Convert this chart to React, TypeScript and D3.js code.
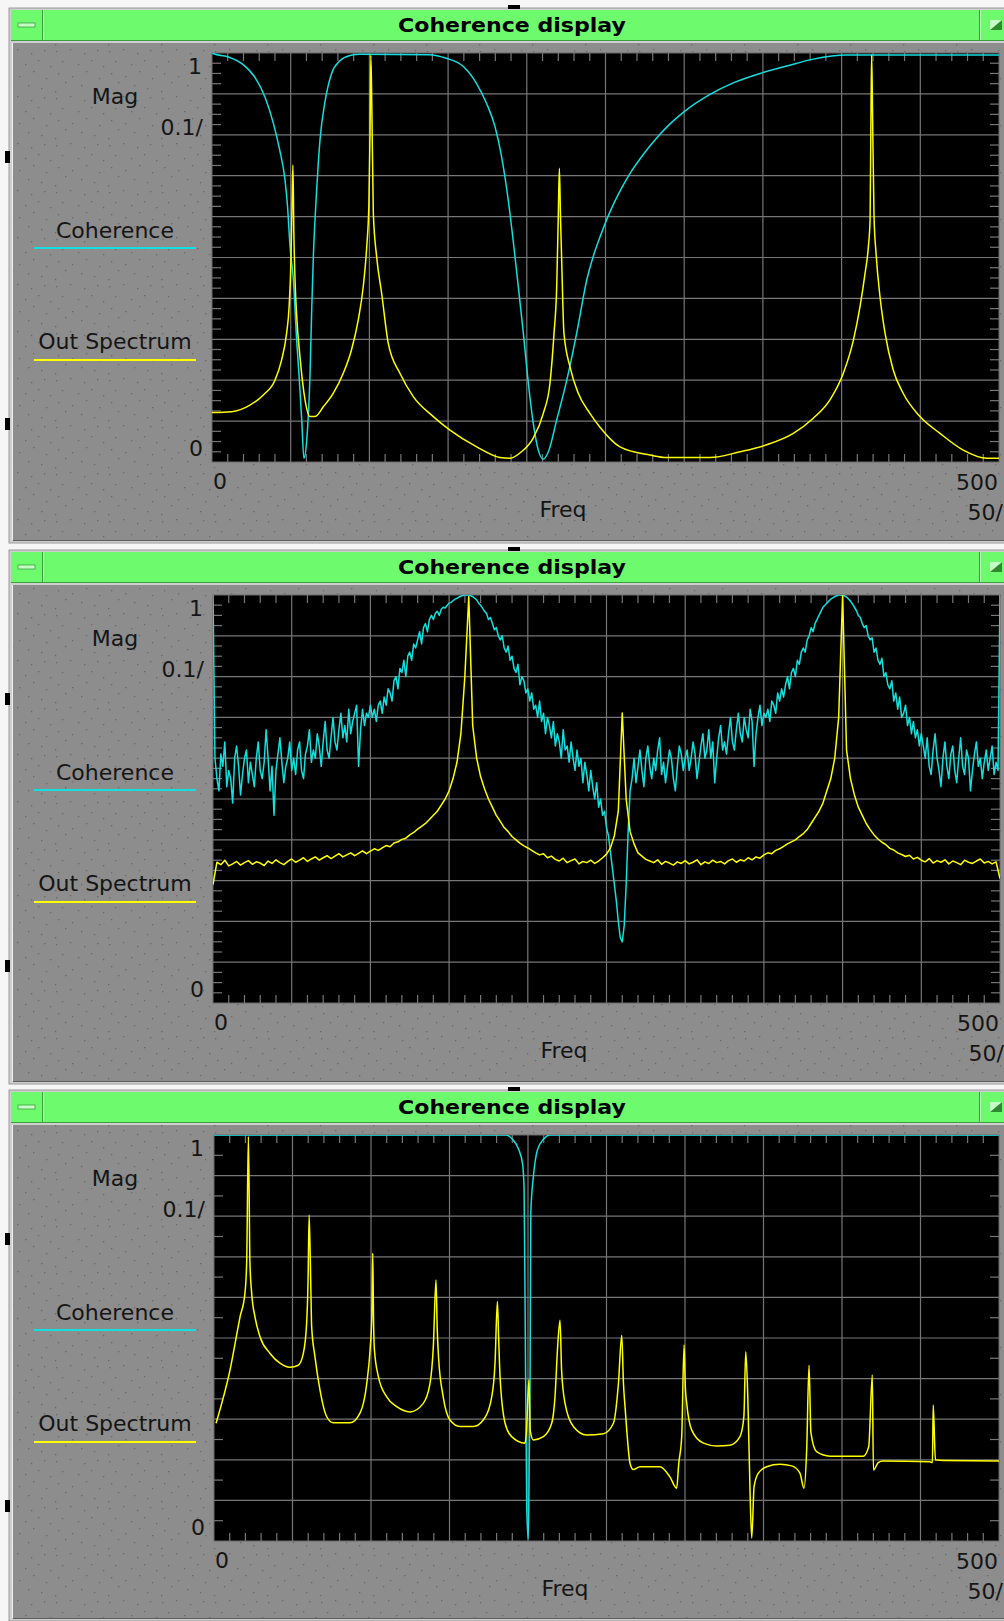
import React from "react";
import * as d3 from "d3";

const W = 1004;
const H = 1621;
const FONT = "'DejaVu Sans', sans-serif";

type Pt = [number, number];

// axis text
const titleText = "Coherence display";
const yAxisName = "Mag";
const yTop = "1";
const yDiv = "0.1/";
const yBottom = "0";
const xAxisName = "Freq";
const xLeft = "0";
const xRight = "500";
const xDiv = "50/";
const seriesNames = ["Coherence", "Out Spectrum"];
const seriesColors = ["#14dede", "#ffff00"];

const freqDomain: Pt = [0, 500];
const magDomain: Pt = [0, 1];

// panel 1 : [freq, mag]
const p1Coherence: Pt[] = [
  [0, 1.0], [1, 0.998], [10, 0.991], [20, 0.971], [27, 0.942], [34, 0.889], [39, 0.828],
  [43, 0.763], [46.4, 0.689], [48, 0.624], [49.6, 0.526], [51.7, 0.445], [53.8, 0.298],
  [55.5, 0.2], [57, 0.103], [58.4, 0.009], [60.2, 0.054], [62.3, 0.217], [63.4, 0.38],
  [64.4, 0.502], [66.5, 0.665], [68.6, 0.787], [71.8, 0.881], [76, 0.95], [81.3, 0.981],
  [87.7, 0.994], [94, 0.997], [138, 0.996], [149, 0.987], [159.7, 0.967], [168, 0.926],
  [174.4, 0.877], [179.8, 0.82], [184, 0.746], [188.2, 0.641], [191.3, 0.543], [194.6, 0.429],
  [197.8, 0.315], [201, 0.192], [204.1, 0.095], [207.3, 0.029], [210.5, 0.007], [213.7, 0.025],
  [219, 0.103], [225.4, 0.2], [231.7, 0.315], [238.1, 0.445], [242, 0.5], [246.5, 0.55],
  [251, 0.595], [256, 0.638], [261, 0.675], [266, 0.708], [274, 0.752], [282.5, 0.792],
  [290, 0.823], [299.4, 0.855], [316.4, 0.899], [331.2, 0.927], [348.2, 0.95], [365.1, 0.968],
  [382, 0.985], [403, 0.995], [500, 0.995],
];

const p1Spectrum: Pt[] = [
  [0, 0.121], [12.4, 0.123], [24.1, 0.139], [32.6, 0.164], [40, 0.2], [44.2, 0.249],
  [47.4, 0.315], [49, 0.38], [50.2, 0.5], [50.8, 0.62], [51.4, 0.726], [52, 0.56],
  [52.8, 0.44], [53.7, 0.364], [55.9, 0.257], [59.1, 0.152], [62.3, 0.111], [65.4, 0.111],
  [70.7, 0.135], [77, 0.168], [83.4, 0.217], [88.6, 0.274], [92.9, 0.347], [96.1, 0.429],
  [98.3, 0.526], [99.7, 0.633], [100.4, 0.8], [100.9, 0.995], [101.5, 0.88], [102.5, 0.608],
  [104.6, 0.502], [107.8, 0.412], [112, 0.29], [119.4, 0.217], [127.9, 0.16], [140.6, 0.111],
  [151.2, 0.078], [168.2, 0.037], [182.9, 0.011], [189.3, 0.009], [196.6, 0.025], [204, 0.058],
  [210.5, 0.119], [214.7, 0.192], [217.3, 0.315], [219, 0.429], [220, 0.6], [220.7, 0.718],
  [221.4, 0.6], [222.1, 0.502], [223.6, 0.315], [227.4, 0.233], [232.7, 0.168], [240.1, 0.119],
  [246.5, 0.085], [259.2, 0.037], [278.3, 0.017], [288.9, 0.011], [316.4, 0.011], [335.5, 0.025],
  [352.4, 0.042], [369.3, 0.07], [382, 0.107], [392.6, 0.152], [401.1, 0.217], [407.5, 0.298],
  [411.7, 0.38], [414.9, 0.461], [417, 0.526], [418.1, 0.592], [418.7, 0.87], [419.1, 0.995],
  [419.6, 0.87], [420.6, 0.6], [421.9, 0.51], [424.4, 0.404], [427.6, 0.315], [432.8, 0.225],
  [439.1, 0.168], [449.8, 0.111], [462.5, 0.07], [477.3, 0.029], [492.2, 0.009], [500, 0.009],
];

// panel 2 : coherence, one value every 1.25 Hz, 0..500
const p2CohStep = 1.25;
const p2Coherence: number[] = [
  1.0,
  0.6, 0.55, 0.52, 0.61, 0.58, 0.64, 0.53, 0.57, 0.55, 0.49,
  0.6, 0.63, 0.58, 0.51, 0.56, 0.6, 0.62, 0.54, 0.59, 0.56,
  0.53, 0.6, 0.64, 0.57, 0.55, 0.59, 0.67, 0.6, 0.52, 0.58,
  0.46, 0.57, 0.61, 0.65, 0.59, 0.54, 0.58, 0.6, 0.64, 0.57,
  0.6, 0.56, 0.62, 0.64, 0.57, 0.55, 0.61, 0.63, 0.67, 0.59,
  0.62, 0.6, 0.66, 0.63, 0.58, 0.64, 0.69, 0.62, 0.6, 0.65,
  0.7, 0.64, 0.62, 0.67, 0.71, 0.65, 0.68, 0.64, 0.72, 0.66,
  0.69, 0.71, 0.73, 0.58, 0.67, 0.72, 0.68, 0.71, 0.7, 0.73,
  0.7, 0.72, 0.69, 0.73, 0.74, 0.71, 0.75, 0.73, 0.77, 0.76,
  0.74, 0.79, 0.8, 0.77, 0.82, 0.81, 0.84, 0.8, 0.85, 0.86,
  0.84, 0.88, 0.87, 0.89, 0.91, 0.88, 0.92, 0.93, 0.91, 0.94,
  0.95, 0.94, 0.955, 0.96, 0.95, 0.965, 0.97, 0.968, 0.975, 0.98,
  0.982, 0.986, 0.99, 0.992, 0.995, 0.997, 0.999, 1.0, 1.0, 1.0,
  0.998, 0.996, 0.992, 0.988, 0.98, 0.975, 0.968, 0.96, 0.955, 0.94,
  0.945, 0.93, 0.915, 0.92, 0.9, 0.89, 0.9, 0.87, 0.86, 0.875,
  0.84, 0.85, 0.82, 0.81, 0.83, 0.78, 0.8, 0.79, 0.76, 0.77,
  0.74, 0.76, 0.72, 0.73, 0.7, 0.74, 0.69, 0.71, 0.66, 0.7,
  0.68, 0.65, 0.69, 0.63, 0.66, 0.64, 0.6, 0.67, 0.62, 0.63,
  0.59, 0.64, 0.6, 0.57, 0.62, 0.58, 0.6, 0.54, 0.59, 0.56,
  0.52, 0.57, 0.53, 0.5, 0.54, 0.48, 0.5, 0.46, 0.47, 0.43,
  0.41, 0.37, 0.33, 0.29, 0.25, 0.2, 0.16, 0.15, 0.19, 0.29,
  0.42, 0.52, 0.55, 0.6, 0.54, 0.58, 0.62, 0.57, 0.53, 0.6,
  0.63, 0.58, 0.55, 0.6, 0.57, 0.62, 0.65, 0.56, 0.59, 0.54,
  0.58, 0.62, 0.6, 0.55, 0.52, 0.58, 0.63, 0.61, 0.57, 0.6,
  0.62, 0.57, 0.6, 0.64, 0.61, 0.55, 0.59, 0.63, 0.66, 0.6,
  0.62, 0.67, 0.6, 0.64, 0.54, 0.6, 0.65, 0.68, 0.62, 0.64,
  0.61, 0.66, 0.7, 0.64, 0.62, 0.67, 0.71, 0.66, 0.64, 0.7,
  0.67, 0.65, 0.72, 0.69, 0.58, 0.66, 0.7, 0.73, 0.68, 0.71,
  0.7, 0.72, 0.69, 0.74, 0.73, 0.71, 0.76, 0.74, 0.77, 0.75,
  0.78, 0.8, 0.77, 0.81, 0.82, 0.8, 0.84, 0.83, 0.86, 0.87,
  0.86, 0.89, 0.9, 0.92, 0.91, 0.93, 0.94, 0.95, 0.96, 0.97,
  0.975, 0.98, 0.985, 0.99, 0.993, 0.996, 0.998, 1.0, 1.0, 1.0,
  0.998, 0.995, 0.99, 0.985, 0.978, 0.97, 0.962, 0.95, 0.945, 0.93,
  0.92, 0.925, 0.9, 0.89, 0.895, 0.86, 0.87, 0.84, 0.83, 0.845,
  0.8, 0.81, 0.78, 0.77, 0.79, 0.74, 0.76, 0.72, 0.75, 0.7,
  0.71, 0.73, 0.68, 0.7, 0.66, 0.69, 0.65, 0.67, 0.63, 0.66,
  0.63, 0.6, 0.65, 0.58, 0.56, 0.62, 0.66, 0.6, 0.57, 0.53,
  0.6, 0.64, 0.58, 0.55, 0.61, 0.63, 0.57, 0.54, 0.6, 0.65,
  0.58, 0.56, 0.62, 0.6, 0.52, 0.57, 0.61, 0.64, 0.58, 0.6,
  0.55, 0.59, 0.62, 0.57, 0.6, 0.63, 0.56, 0.59, 0.57, 1.0,
];

// panel 2 : out spectrum, one value every 2.5 Hz, 0..500
const p2SpecStep = 2.5;
const p2Spectrum: number[] = [
  0.29, 0.345, 0.339, 0.35, 0.336, 0.341, 0.347, 0.338, 0.344, 0.349,
  0.34, 0.346, 0.343, 0.337, 0.348, 0.342, 0.351, 0.344, 0.339, 0.347,
  0.353, 0.345, 0.35, 0.356, 0.347, 0.353, 0.358, 0.35, 0.356, 0.361,
  0.354, 0.36, 0.366, 0.358, 0.363, 0.368, 0.361, 0.367, 0.373, 0.366,
  0.372, 0.378, 0.374, 0.38, 0.386, 0.383, 0.392, 0.395, 0.401, 0.404,
  0.412, 0.418, 0.426, 0.433, 0.44, 0.45, 0.46, 0.47, 0.485, 0.5,
  0.52, 0.55, 0.59, 0.66, 0.8, 0.996, 0.68, 0.6, 0.555, 0.525,
  0.5, 0.48, 0.46, 0.445, 0.43, 0.42, 0.408, 0.4, 0.392, 0.385,
  0.38, 0.374, 0.368, 0.363, 0.366, 0.356, 0.36, 0.352, 0.348, 0.355,
  0.344, 0.349, 0.353, 0.341, 0.347, 0.344, 0.35, 0.342, 0.348, 0.356,
  0.365, 0.38, 0.41, 0.47, 0.711, 0.5, 0.42, 0.39, 0.368, 0.36,
  0.352, 0.348, 0.344, 0.351, 0.34, 0.347, 0.343, 0.338, 0.346, 0.342,
  0.349, 0.341, 0.345, 0.351, 0.339, 0.346, 0.342, 0.35, 0.344, 0.347,
  0.341, 0.349, 0.353, 0.345, 0.351, 0.348, 0.356, 0.351, 0.358, 0.355,
  0.363, 0.368, 0.366, 0.374, 0.378, 0.384, 0.39, 0.395, 0.4, 0.408,
  0.415, 0.425, 0.44, 0.455, 0.47, 0.49, 0.52, 0.55, 0.6, 0.7,
  1.0, 0.62, 0.55, 0.51, 0.48, 0.46, 0.44, 0.425, 0.412, 0.402,
  0.394, 0.388, 0.379, 0.375, 0.368, 0.364, 0.359, 0.362, 0.353, 0.357,
  0.35, 0.346, 0.354, 0.343, 0.349, 0.345, 0.351, 0.341, 0.348, 0.344,
  0.339, 0.35, 0.345, 0.342, 0.348, 0.353, 0.343, 0.347, 0.341, 0.346,
  0.305,
];

// panel 3 : [freq, mag]
const p3Coherence: Pt[] = [
  [0, 1], [186, 1], [190, 0.99], [194, 0.965], [196.5, 0.93], [197.5, 0.87], [198.2, 0.55],
  [199.2, 0.08], [200.2, 0.005], [200.8, 0.2], [201.3, 0.38], [201.8, 0.81], [203.5, 0.9],
  [206, 0.963], [210, 0.99], [214, 1], [500, 1],
];

const p3Spectrum: Pt[] = [
  [1.3, 0.29], [10.2, 0.421], [16.6, 0.552], [19.7, 0.61], [20.8, 0.684], [21.9, 0.996],
  [22.9, 0.684], [24, 0.61], [26.1, 0.552], [29.3, 0.503], [35.7, 0.462], [42, 0.438],
  [48.4, 0.428], [53.7, 0.433], [56.9, 0.462], [59, 0.536], [59.9, 0.64], [60.6, 0.803],
  [61.6, 0.64], [62.2, 0.528], [64.3, 0.454], [67.5, 0.372], [71.8, 0.306], [76, 0.291],
  [86.6, 0.291], [93, 0.315], [97.3, 0.388], [99.4, 0.47], [100.5, 0.55], [101.1, 0.709],
  [101.6, 0.55], [102.2, 0.47], [104.7, 0.405], [110, 0.355], [116.4, 0.331], [124.9, 0.318],
  [133.3, 0.339], [137.6, 0.388], [139.7, 0.479], [141.4, 0.643], [142.2, 0.52], [143, 0.454],
  [146, 0.355], [150.3, 0.298], [156.7, 0.282], [165.2, 0.282], [171.5, 0.298], [176.9, 0.355],
  [179, 0.438], [180.5, 0.59], [181.3, 0.5], [182.2, 0.405], [185.4, 0.29], [189.6, 0.257],
  [198.1, 0.241], [199, 0.27], [200.6, 0.397], [201.5, 0.27], [203.4, 0.249], [209.8, 0.257],
  [215.1, 0.29], [217.2, 0.355], [218.9, 0.48], [220.4, 0.544], [221.4, 0.42], [223.6, 0.339],
  [228.9, 0.282], [237.4, 0.261], [248, 0.264], [254.4, 0.29], [257.6, 0.388], [259.7, 0.507],
  [260.8, 0.388], [261.8, 0.331], [262.9, 0.273], [265, 0.191], [267.1, 0.176], [271.3, 0.183],
  [284, 0.183], [290.4, 0.158], [294.7, 0.13], [296, 0.19], [297.9, 0.257], [299.4, 0.483],
  [300.2, 0.38], [301.1, 0.339], [304.3, 0.273], [311.7, 0.241], [320.2, 0.234], [328.7, 0.236],
  [335, 0.257], [337.5, 0.306], [338.7, 0.466], [340, 0.355], [341.4, 0.126], [342.5, 0.007],
  [344, 0.134], [346.7, 0.167], [352, 0.183], [360.5, 0.189], [368, 0.185], [373.2, 0.167],
  [375.8, 0.13], [377.5, 0.224], [379, 0.433], [380.2, 0.267], [383.8, 0.22], [392.4, 0.209],
  [413.6, 0.209], [417, 0.232], [419.3, 0.409], [420, 0.175], [423.1, 0.193], [426, 0.197],
  [456, 0.195], [457.6, 0.193], [458.1, 0.335], [459.5, 0.2], [464.5, 0.198], [500, 0.197],
];

const toPairs = (vals: number[], step: number): Pt[] => vals.map((v, i) => [i * step, v]);

const panels = [
  { top: 8, plotX: 212, plotY: 53, plotW: 787, plotH: 409, bottom: 540, ySub: 4, smooth: true,
    series: [p1Coherence, p1Spectrum] },
  { top: 550, plotX: 213, plotY: 595, plotW: 787, plotH: 408, bottom: 1081, ySub: 4, smooth: false,
    series: [toPairs(p2Coherence, p2CohStep), toPairs(p2Spectrum, p2SpecStep)] },
  { top: 1090, plotX: 214, plotY: 1135, plotW: 785, plotH: 406, bottom: 1618, ySub: 2, smooth: true,
    series: [p3Coherence, p3Spectrum] },
];

// stipple dots of the panel background (decoration)
const stippleDots: Pt[] = [
  [3, 4], [17, 2], [31, 6], [44, 3], [9, 14], [25, 17], [38, 13], [50, 19],
  [5, 26], [19, 29], [33, 24], [46, 31], [12, 35], [28, 38], [41, 41], [2, 44],
];

const Panel = ({ p, idx }: { p: typeof panels[number]; idx: number }) => {
  const x = d3.scaleLinear().domain(freqDomain).range([p.plotX, p.plotX + p.plotW]);
  const y = d3.scaleLinear().domain(magDomain).range([p.plotY + p.plotH, p.plotY]);
  const xMajor = d3.range(50, 500, 50);
  const xMinor = d3.range(10, 500, 10).filter((f) => f % 50 !== 0);
  const yMajor = d3.range(1, 10).map((k) => k / 10);
  const yMinor = d3.range(1, 10 * p.ySub).filter((k) => k % p.ySub !== 0).map((k) => k / (10 * p.ySub));
  const line = d3
    .line<Pt>()
    .x((d) => x(d[0]))
    .y((d) => y(d[1]))
    .curve(p.smooth ? d3.curveMonotoneX : d3.curveLinear);
  const left = p.plotX;
  const right = p.plotX + p.plotW;
  const top = p.plotY;
  const bot = p.plotY + p.plotH;
  const t = p.top;
  const clipId = `clip${idx}`;
  const tick = 8;
  const label = { fontFamily: FONT, fontSize: 22, fill: "#151515" } as const;

  return (
    <g>
      <defs>
        <clipPath id={clipId}>
          <rect x={left} y={top} width={p.plotW} height={p.plotH} />
        </clipPath>
      </defs>
      {/* window frame */}
      <rect x={9} y={t} width={W} height={p.bottom - t + 3} fill="#cfcfcf" stroke="#9a9a9a" />
      <rect x={11} y={t + 2} width={W} height={30} fill="#6dfb6d" />
      <line x1={11} x2={W} y1={t + 32.5} y2={t + 32.5} stroke="#3d9e3d" />
      <line x1={42.5} x2={42.5} y1={t + 2} y2={t + 32} stroke="#3d9e3d" />
      <line x1={43.5} x2={43.5} y1={t + 2} y2={t + 32} stroke="#b8ffb8" />
      <rect x={18} y={t + 15} width={17} height={4} fill="#c6ffc6" stroke="#3d9e3d" strokeWidth={0.8} />
      <line x1={979.5} x2={979.5} y1={t + 2} y2={t + 32} stroke="#3d9e3d" />
      <line x1={980.5} x2={980.5} y1={t + 2} y2={t + 32} stroke="#b8ffb8" />
      <rect x={990} y={t + 12} width={12} height={10} fill="#c6ffc6" />
      <path d={`M1002,${t + 12}L1002,${t + 22}L990,${t + 22}Z`} fill="#2f8a2f" />
      <text x={512} y={t + 24} textAnchor="middle" fontFamily={FONT} fontWeight="bold" fontSize={20} fill="#000" textLength={228} lengthAdjust="spacingAndGlyphs">
        {titleText}
      </text>
      <rect x={13} y={t + 35} width={W} height={p.bottom - t - 35} fill="#8d8d8d" />
      <rect x={13} y={t + 35} width={W} height={p.bottom - t - 35} fill="url(#stipple)" />
      <line x1={13} x2={W} y1={p.bottom + 0.5} y2={p.bottom + 0.5} stroke="#5c5c5c" />
      <line x1={12.5} x2={12.5} y1={t + 35} y2={p.bottom} stroke="#f0f0f0" />

      {/* resize handles */}
      <rect x={5} y={t + 143} width={5} height={12} fill="#000" />
      <rect x={5} y={t + 410} width={5} height={12} fill="#000" />
      <rect x={508} y={t - 3} width={12} height={4} fill="#000" />

      {/* plot */}
      <rect x={left} y={top} width={p.plotW} height={p.plotH} fill="#000" stroke="#6a6a6a" />
      {xMajor.map((f) => (
        <line key={`gx${f}`} x1={x(f)} x2={x(f)} y1={top} y2={bot} stroke="#767676" strokeWidth={1.2} />
      ))}
      {yMajor.map((v) => (
        <line key={`gy${v}`} x1={left} x2={right} y1={y(v)} y2={y(v)} stroke="#767676" strokeWidth={1.2} />
      ))}
      {xMinor.map((f) => (
        <g key={`tx${f}`} stroke="#767676" strokeWidth={1.2}>
          <line x1={x(f)} x2={x(f)} y1={top} y2={top + tick} />
          <line x1={x(f)} x2={x(f)} y1={bot} y2={bot - tick} />
        </g>
      ))}
      {yMinor.map((v) => (
        <g key={`ty${v}`} stroke="#767676" strokeWidth={1.2}>
          <line x1={left} x2={left + tick + 1} y1={y(v)} y2={y(v)} />
          <line x1={right} x2={right - tick - 1} y1={y(v)} y2={y(v)} />
        </g>
      ))}
      <g clipPath={`url(#${clipId})`}>
        {p.series.map((s, i) => (
          <path key={i} d={line(s) ?? ""} fill="none" stroke={seriesColors[i]} strokeWidth={1.5} strokeLinejoin="round" />
        ))}
      </g>

      {/* labels */}
      <text {...label} x={left - 10} y={top + 21} textAnchor="end">{yTop}</text>
      <text {...label} x={115} y={top + 51} textAnchor="middle">{yAxisName}</text>
      <text {...label} x={left - 9} y={top + 82} textAnchor="end">{yDiv}</text>
      <text {...label} x={left - 9} y={bot - 6} textAnchor="end">{yBottom}</text>
      {seriesNames.map((name, i) => (
        <g key={name}>
          <text {...label} x={115} y={top + 185 + i * 111} textAnchor="middle">{name}</text>
          <line x1={34} x2={196} y1={top + 195 + i * 112} y2={top + 195 + i * 112} stroke={seriesColors[i]} strokeWidth={2} />
        </g>
      ))}
      <text {...label} x={left + 1} y={bot + 27}>{xLeft}</text>
      <text {...label} x={right - 1} y={bot + 28} textAnchor="end">{xRight}</text>
      <text {...label} x={left + 351} y={bot + 55} textAnchor="middle">{xAxisName}</text>
      <text {...label} x={right + 4} y={bot + 58} textAnchor="end">{xDiv}</text>
    </g>
  );
};

export default function App() {
  return (
    <div style={{ position: "absolute", left: 0, top: 0 }}>
      <svg width={W} height={H} viewBox={`0 0 ${W} ${H}`} style={{ display: "block", background: "#f6f6f6" }}>
        <defs>
          <pattern id="stipple" width={53} height={47} patternUnits="userSpaceOnUse">
            {stippleDots.map((d, i) => (
              <rect key={i} x={d[0]} y={d[1]} width={1.3} height={1.3} fill="#6a6a6a" />
            ))}
          </pattern>
        </defs>
        {panels.map((p, i) => (
          <Panel key={i} p={p} idx={i} />
        ))}
      </svg>
    </div>
  );
}
